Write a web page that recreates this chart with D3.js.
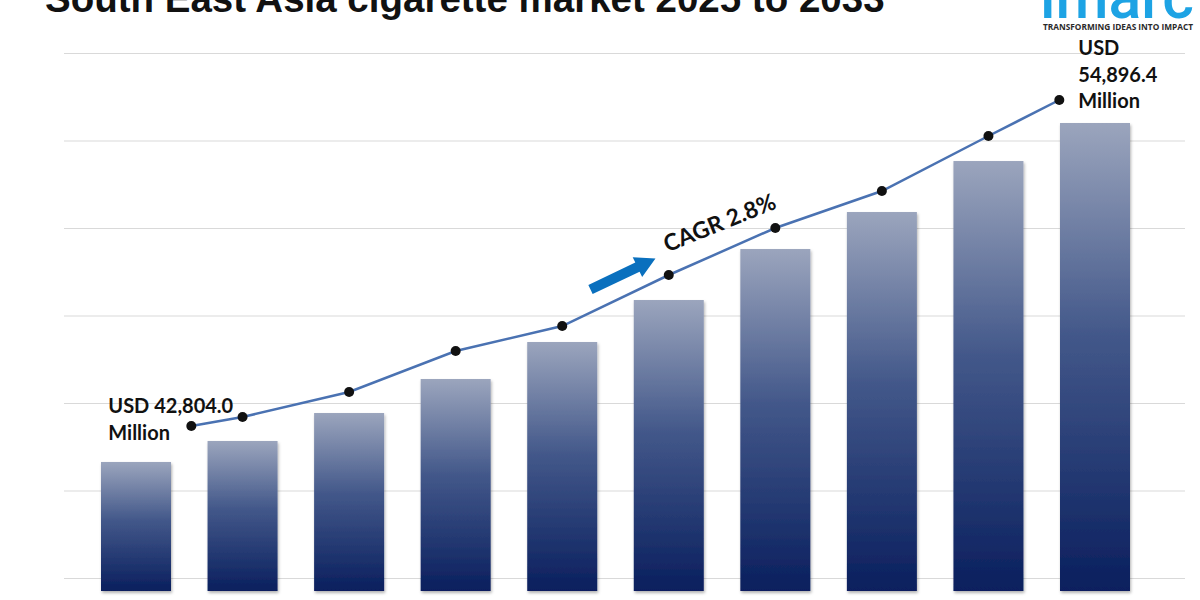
<!DOCTYPE html>
<html>
<head>
<meta charset="utf-8">
<script src="https://cdn.jsdelivr.net/npm/d3@7"></script>
<style>
  body { margin: 0; background: #fff; }
  svg { display: block; }
</style>
</head>
<body>
<svg id="chart"></svg>
<script>
const w = 1200;
const h = 600;

// data
const years = ["2024", "2025", "2026", "2027", "2028", "2029", "2030", "2031", "2032", "2033"];
// trend line, USD million (ends labelled, the rest)
const trendValues = [42804.0, 43138, 44065, 45586, 46513, 48405, 50149, 51521, 53561, 54896.4];
// bar heights as drawn (decorative, estimated on the same unit)
const barValues = [42804, 43553, 44551, 45764, 47084, 48582, 50401, 51721, 53540, 54896.4];
const gridSteps = [0, 1, 2, 3, 4, 5, 6];

const title = "South East Asia cigarette market 2025 to 2033";
const startLabel = ["USD 42,804.0", "Million"];
const endLabel = ["USD", "54,896.4", "Million"];
const cagrLabel = "CAGR 2.8%";

const svg = d3.select("#chart")
  .attr("width", w)
  .attr("height", h);

const defs = svg.append("defs");

const grad = defs.append("linearGradient")
  .attr("id", "barGrad")
  .attr("x1", 0).attr("y1", 0)
  .attr("x2", 0).attr("y2", 1);
grad.append("stop").attr("offset", "0%").attr("stop-color", "#9ba5bd");
grad.append("stop").attr("offset", "45%").attr("stop-color", "#43588a");
grad.append("stop").attr("offset", "100%").attr("stop-color", "#0a1f5e");

const shadow = defs.append("filter")
  .attr("id", "shadow")
  .attr("x", "-10%").attr("y", "-5%")
  .attr("width", "130%").attr("height", "115%");
shadow.append("feDropShadow")
  .attr("dx", 1).attr("dy", 2)
  .attr("stdDeviation", 1.5)
  .attr("flood-color", "#000")
  .attr("flood-opacity", 0.3);

// scales
const xScale = d3.scaleBand()
  .domain(years)
  .range([101, 1130])
  .paddingInner(0.343)
  .paddingOuter(0);

const barY = d3.scaleLinear()
  .domain([38202, 54896.4])
  .range([591, 123]);

const lineY = d3.scaleLinear()
  .domain([42804, 54896.4])
  .range([426, 100]);

const gridY = d3.scaleLinear()
  .domain([0, 6])
  .range([578, 53]);

// gridlines
const yGrid = d3.axisLeft(gridY)
  .tickValues(gridSteps)
  .tickSize(-(1185 - 64))
  .tickFormat("");

svg.append("g")
  .attr("class", "grid")
  .attr("transform", "translate(64,0)")
  .call(yGrid)
  .call(g => g.select(".domain").remove())
  .call(g => g.selectAll("line").attr("stroke", "#d9d9d9").attr("stroke-width", 1));

// bars
svg.selectAll("rect.bar")
  .data(years)
  .enter()
  .append("rect")
  .attr("class", "bar")
  .attr("x", d => xScale(d))
  .attr("y", (d, i) => barY(barValues[i]))
  .attr("width", xScale.bandwidth())
  .attr("height", (d, i) => barY(barY.domain()[0]) - barY(barValues[i]))
  .attr("fill", "url(#barGrad)")
  .attr("filter", "url(#shadow)");

// trend line: end points pulled in toward the inner bars
const bw = xScale.bandwidth();
const lineX = (d, i) => {
  const c = xScale(d) + bw / 2;
  if (i === 0) return c + bw * 0.79;
  if (i === years.length - 1) return c - bw * 0.51;
  return c;
};

const pts = years.map((d, i) => [lineX(d, i), lineY(trendValues[i])]);

svg.append("path")
  .datum(pts)
  .attr("fill", "none")
  .attr("stroke", "#4a72b2")
  .attr("stroke-width", 2.5)
  .attr("d", d3.line());

svg.selectAll("circle.dot")
  .data(pts)
  .enter()
  .append("circle")
  .attr("class", "dot")
  .attr("cx", d => d[0])
  .attr("cy", d => d[1])
  .attr("r", 5)
  .attr("fill", "#111");

const labelFont = "Lato, 'Open Sans', sans-serif";

// start label
const p0 = pts[0];
svg.append("g")
  .selectAll("text")
  .data(startLabel)
  .enter()
  .append("text")
  .attr("x", p0[0] - 83)
  .attr("y", (d, i) => p0[1] - 13 + i * 27)
  .attr("font-family", labelFont)
  .attr("font-weight", 700)
  .attr("font-size", 20)
  .attr("fill", "#111")
  .text(d => d);

// end label
const pN = pts[pts.length - 1];
svg.append("g")
  .selectAll("text")
  .data(endLabel)
  .enter()
  .append("text")
  .attr("x", pN[0] + 19)
  .attr("y", (d, i) => pN[1] - 45 + i * 26.5)
  .attr("font-family", labelFont)
  .attr("font-weight", 700)
  .attr("font-size", 20)
  .attr("fill", "#111")
  .text(d => d);

// CAGR arrow + label, placed off the 2028-2029 segment
const a = pts[4], b = pts[5];
const mid = [(a[0] + b[0]) / 2, (a[1] + b[1]) / 2];

svg.append("path")
  .attr("transform", `translate(${mid[0] - 25},${mid[1] - 11}) rotate(-25.5)`)
  .attr("d", "M0,-5 L52,-5 L52,-11 L72,0 L52,11 L52,5 L0,5 Z")
  .attr("fill", "#0a70be");

svg.append("text")
  .attr("transform", `translate(${mid[0] + 52},${mid[1] - 48}) rotate(-22)`)
  .attr("font-family", labelFont)
  .attr("font-weight", 700)
  .attr("font-size", 23)
  .attr("fill", "#111")
  .text(cagrLabel);

// title (cut off at the top like the source)
svg.append("text")
  .attr("x", 45)
  .attr("y", 12)
  .attr("font-family", "'Liberation Sans', Arial, sans-serif")
  .attr("font-weight", 700)
  .attr("font-size", 38.5)
  .attr("fill", "#111")
  .text(title);

// logo
svg.append("text")
  .attr("x", 1040)
  .attr("y", 18)
  .attr("font-family", "Roboto, sans-serif")
  .attr("font-weight", 500)
  .attr("font-size", 62)
  .attr("fill", "#1da3e4")
  .attr("textLength", 154)
  .attr("lengthAdjust", "spacingAndGlyphs")
  .text("imarc");

svg.append("text")
  .attr("x", 1043)
  .attr("y", 30)
  .attr("font-family", "'Open Sans', sans-serif")
  .attr("font-weight", 700)
  .attr("font-size", 9.5)
  .attr("fill", "#2a2a2a")
  .attr("textLength", 150)
  .attr("lengthAdjust", "spacingAndGlyphs")
  .text("TRANSFORMING IDEAS INTO IMPACT");
</script>
</body>
</html>
